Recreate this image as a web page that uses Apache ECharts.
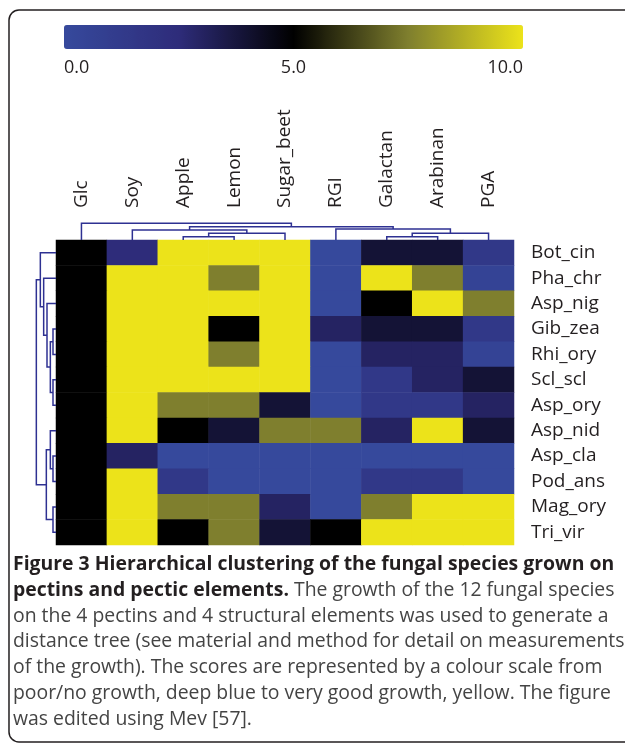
<!DOCTYPE html>
<html>
<head>
<meta charset="utf-8">
<script src="https://cdn.jsdelivr.net/npm/echarts@6/dist/echarts.min.js"></script>
<style>
  html, body { margin: 0; padding: 0; background: #fff; }
  #chart { width: 625px; height: 750px; }
</style>
</head>
<body>
<div id="chart"></div>
<script>
// substrates (columns) and fungal species (rows)
const substrates = ['Glc', 'Soy', 'Apple', 'Lemon', 'Sugar_beet', 'RGI', 'Galactan', 'Arabinan', 'PGA'];
const species = ['Bot_cin', 'Pha_chr', 'Asp_nig', 'Gib_zea', 'Rhi_ory', 'Scl_scl',
                 'Asp_ory', 'Asp_nid', 'Asp_cla', 'Pod_ans', 'Mag_ory', 'Tri_vir'];

// growth scores, one row per species
const scores = [
  [5, 2.5, 10, 10, 10, 0, 3.9, 3.9, 1.5],
  [5, 10, 10, 7.5, 10, 0, 10, 7.5, 0.5],
  [5, 10, 10, 10, 10, 0, 5, 10, 7.5],
  [5, 10, 10, 5, 10, 3, 3.9, 3.9, 1.5],
  [5, 10, 10, 7.5, 10, 0, 3, 3, 0.5],
  [5, 10, 10, 10, 10, 0, 1.5, 3, 3.9],
  [5, 10, 7.5, 7.5, 3.9, 0, 1.5, 1.5, 3],
  [5, 10, 5, 3.9, 7.5, 7.5, 3, 10, 3.9],
  [5, 3, 0, 0, 0, 0, 0, 0, 0],
  [5, 10, 1.5, 0, 0, 0, 1.5, 1.5, 0],
  [5, 10, 7.5, 7.5, 3, 0, 7.5, 10, 10],
  [5, 10, 5, 7.5, 3.9, 5, 10, 10, 10]
];

// dendrogram merges: [clusterA, clusterB, height]; leaves are 0..n-1, new clusters n, n+1, ...
const colMerges = [
  [2, 3, 1.0], [6, 7, 1.0], [9, 4, 2.0], [10, 8, 2.0],
  [1, 11, 3.0], [5, 12, 3.3], [13, 14, 4.0], [0, 15, 5.0]
];
const rowMerges = [
  [3, 4, 0.9], [5, 6, 0.9], [12, 13, 1.7], [2, 14, 2.7], [1, 15, 3.7], [0, 16, 4.7],
  [8, 9, 0.9], [7, 18, 1.7], [10, 11, 0.9], [19, 20, 2.9], [17, 21, 5.9]
];

const scaleTicks = [0, 5, 10];

const heatData = [];
scores.forEach((row, r) => row.forEach((v, c) => heatData.push([c, r, v])));

function buildLinks(merges, n) {
  const pos = [], ht = [];
  for (let i = 0; i < n; i++) { pos.push(i); ht.push(0); }
  return merges.map(([a, b, h]) => {
    const item = [pos[a], ht[a], pos[b], ht[b], h];
    pos.push((pos[a] + pos[b]) / 2);
    ht.push(h);
    return item;
  });
}

const treeColor = '#2e3192';
function dendroRender(sideways) {
  return function (params, api) {
    const pa = api.value(0), ha = api.value(1), pb = api.value(2), hb = api.value(3), h = api.value(4);
    const pt = sideways ? (p, v) => api.coord([v, p]) : (p, v) => api.coord([p, v]);
    return {
      type: 'polyline',
      shape: { points: [pt(pa, ha), pt(pa, h), pt(pb, h), pt(pb, hb)] },
      style: { stroke: treeColor, lineWidth: 1.5, fill: null }
    };
  };
}

const font = 'Open Sans';
const textColor = '#231f20';

const chart = echarts.init(document.getElementById('chart'));
chart.setOption({
  animation: false,
  grid: [
    { left: 56, top: 240, width: 458, height: 305 },   // heatmap
    { left: 56, top: 220, width: 458, height: 20 },    // column tree
    { left: 36, top: 240, width: 20, height: 305 },    // row tree
    { left: 64, top: 49, width: 459, height: 0 }       // colour scale ticks
  ],
  xAxis: [
    {
      gridIndex: 0, type: 'category', data: substrates, position: 'top',
      axisLine: { show: false }, axisTick: { show: false }, splitLine: { show: false },
      axisLabel: { rotate: -90, margin: 32, padding: [8, 0, 0, 0], fontSize: 19, fontFamily: font, color: textColor }
    },
    { gridIndex: 1, type: 'value', min: -0.5, max: substrates.length - 0.5, show: false },
    { gridIndex: 2, type: 'value', min: 0, max: 6, inverse: true, show: false },
    {
      gridIndex: 3, type: 'value', min: 0, max: 10, interval: 5, position: 'bottom',
      axisLine: { show: false }, axisTick: { show: false }, splitLine: { show: false },
      axisLabel: {
        margin: 10, fontSize: 18, fontFamily: font, color: textColor,
        alignMinLabel: 'left', alignMaxLabel: 'right',
        formatter: v => scaleTicks.includes(v) ? v.toFixed(1) : ''
      }
    }
  ],
  yAxis: [
    {
      gridIndex: 0, type: 'category', data: species, inverse: true, position: 'right',
      axisLine: { show: false }, axisTick: { show: false }, splitLine: { show: false },
      axisLabel: { margin: 17, fontSize: 19, fontFamily: font, color: textColor }
    },
    { gridIndex: 1, type: 'value', min: 0, max: 6, show: false },
    { gridIndex: 2, type: 'value', min: -0.5, max: species.length - 0.5, inverse: true, show: false },
    { gridIndex: 3, type: 'value', show: false }
  ],
  visualMap: {
    type: 'continuous', min: 0, max: 10, seriesIndex: 0,
    orient: 'horizontal', left: 64, top: 25, padding: 0,
    itemWidth: 24, itemHeight: 459, calculable: false, text: null,
    showLabel: false,
    inRange: { color: ['#36499c', '#2e2c7a', '#000000', '#7f7f2e', '#ece31a'] }
  },
  series: [
    {
      type: 'heatmap', xAxisIndex: 0, yAxisIndex: 0, data: heatData,
      emphasis: { disabled: true }
    },
    {
      type: 'custom', xAxisIndex: 1, yAxisIndex: 1,
      data: buildLinks(colMerges, substrates.length),
      renderItem: dendroRender(false), silent: true
    },
    {
      type: 'custom', xAxisIndex: 2, yAxisIndex: 2,
      data: buildLinks(rowMerges, species.length),
      renderItem: dendroRender(true), silent: true
    }
  ],
  graphic: [
    {
      type: 'rect', silent: true,
      shape: { x: 9, y: 10, width: 640, height: 732, r: 10 },
      style: { fill: null, stroke: textColor, lineWidth: 1.5 }
    },
    {
      type: 'text', left: 13, top: 555,
      style: {
        text: '{b|Figure 3 Hierarchical clustering of the fungal species grown on}\n' +
              '{b|pectins and pectic elements.}{n| The growth of the 12 fungal species}\n' +
              '{n|on the 4 pectins and 4 structural elements was used to generate a}\n' +
              '{n|distance tree (see material and method for detail on measurements}\n' +
              '{n|of the growth). The scores are represented by a colour scale from}\n' +
              '{n|poor/no growth, deep blue to very good growth, yellow. The figure}\n' +
              '{n|was edited using Mev [57].}',
        rich: {
          b: { fontFamily: font, fontWeight: 'bold', fontSize: 19.4, lineHeight: 25.8, fill: textColor },
          n: { fontFamily: font, fontSize: 19.4, lineHeight: 25.8, fill: '#444444' }
        }
      }
    }
  ]
});
</script>
</body>
</html>
